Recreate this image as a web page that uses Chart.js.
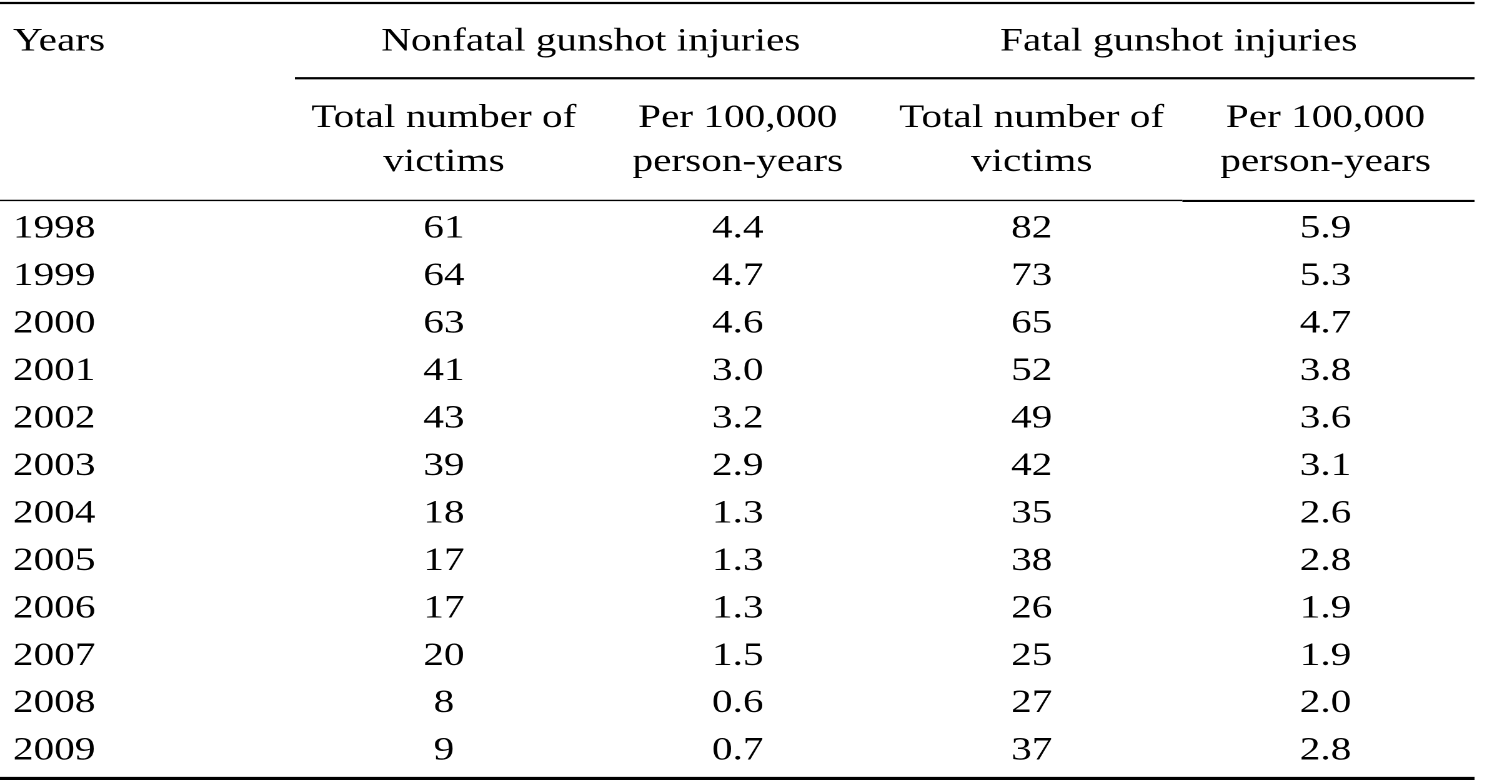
<!DOCTYPE html>
<html>
<head>
<meta charset="utf-8">
<title>Gunshot injuries 1998-2009</title>
<script src="https://cdn.jsdelivr.net/npm/chart.js@4.4.0/dist/chart.umd.min.js"></script>
<style>
  html, body { margin: 0; padding: 0; background: #fff; overflow: hidden; }
  /* the table in the source is printed wider than its font, so stretch it sideways */
  #wrap { width: 1190px; height: 782px; transform: scaleX(1.2496); transform-origin: 0 0; }
</style>
</head>
<body>
<div id="wrap"><canvas id="chart"></canvas></div>
<script>
// ---- data ----
const years = ['1998', '1999', '2000', '2001', '2002', '2003', '2004', '2005', '2006', '2007', '2008', '2009'];
const groupHeads = ['Nonfatal gunshot injuries', 'Fatal gunshot injuries'];
const columnHeads = [
  ['Total number of', 'victims'],
  ['Per 100,000', 'person-years'],
  ['Total number of', 'victims'],
  ['Per 100,000', 'person-years']
];
const nonfatalTotal = [61, 64, 63, 41, 43, 39, 18, 17, 17, 20, 8, 9];
const nonfatalRate  = [4.4, 4.7, 4.6, 3.0, 3.2, 2.9, 1.3, 1.3, 1.3, 1.5, 0.6, 0.7];
const fatalTotal    = [82, 73, 65, 52, 49, 42, 35, 38, 26, 25, 27, 37];
const fatalRate     = [5.9, 5.3, 4.7, 3.8, 3.6, 3.1, 2.6, 2.8, 1.9, 1.9, 2.0, 2.8];

const FONT = "'Liberation Serif', 'Times New Roman', serif";
const SIZE = 33;

Chart.defaults.font.family = FONT;
Chart.defaults.font.size = SIZE;
Chart.defaults.color = '#000';

// one dataset per column, one point per year (x = column, y = row)
const columns = [
  { values: nonfatalTotal, decimals: 0 },
  { values: nonfatalRate,  decimals: 1 },
  { values: fatalTotal,    decimals: 0 },
  { values: fatalRate,     decimals: 1 }
];

const datasets = columns.map((col, c) => ({
  label: columnHeads[c].join(' '),
  values: col.values,
  decimals: col.decimals,
  data: col.values.map((v, r) => ({ x: c, y: r })),
  pointRadius: 0,
  showLine: false
}));

// draws the cell texts at the points and the rules of the table
const tablePlugin = {
  id: 'tableText',
  afterDatasetsDraw(chart) {
    const ctx = chart.ctx;
    ctx.save();
    ctx.fillStyle = '#000';
    ctx.font = SIZE + 'px ' + FONT;
    ctx.textAlign = 'center';
    ctx.textBaseline = 'middle';
    chart.data.datasets.forEach((ds, i) => {
      chart.getDatasetMeta(i).data.forEach((pt, j) => {
        ctx.fillText(ds.values[j].toFixed(ds.decimals), pt.x, pt.y);
      });
    });
    // "Years" heading, level with the group headings
    const x2 = chart.scales.x2, y = chart.scales.y;
    ctx.textAlign = 'left';
    ctx.fillText('Years', y.left, x2.top + x2.height / 2);
    ctx.restore();
  },
  afterDraw(chart) {
    const ctx = chart.ctx;
    const area = chart.chartArea;
    const xs = chart.scales.x;
    const right = area.right + 1.6;
    const lastColLeft = xs.getPixelForValue(3) - (xs.getPixelForValue(1) - xs.getPixelForValue(0)) / 2 + 3;
    const rule = (x0, x1, yy, w) => {
      ctx.beginPath();
      ctx.lineWidth = w;
      ctx.strokeStyle = '#000';
      ctx.moveTo(x0, yy);
      ctx.lineTo(x1, yy);
      ctx.stroke();
    };
    ctx.save();
    rule(0, right, 3, 2.2);                           // top rule
    rule(area.left - 1.6, right, xs.top + 3, 2.2);    // under group headings
    rule(0, lastColLeft, area.top - 4.8, 1.3);        // under column headings
    rule(lastColLeft, right, area.top - 4.3, 2.2);
    rule(0, right, area.bottom + 3.7, 3.2);           // bottom rule
    ctx.restore();
  }
};

new Chart(document.getElementById('chart'), {
  type: 'scatter',
  data: { datasets },
  plugins: [tablePlugin],
  options: {
    responsive: true,
    maintainAspectRatio: false,
    devicePixelRatio: 2,
    animation: false,
    parsing: false,
    events: [],
    layout: { padding: { left: 10.4, right: 11.6, top: 8.75, bottom: 7.25 } },
    plugins: { legend: { display: false }, tooltip: { enabled: false } },
    scales: {
      x: {
        type: 'category',
        position: 'top',
        weight: 0,
        labels: columnHeads,
        offset: true,
        grid: { display: false, drawTicks: false },
        border: { display: false },
        ticks: { padding: 21, maxRotation: 0, autoSkip: false, font: { size: SIZE, lineHeight: 44 / SIZE } }
      },
      x2: {
        type: 'category',
        position: 'top',
        weight: 1,
        labels: groupHeads,
        offset: true,
        grid: { display: false, drawTicks: false },
        border: { display: false },
        ticks: { padding: 11.25, maxRotation: 0, autoSkip: false, font: { size: SIZE, lineHeight: 44 / SIZE } }
      },
      y: {
        type: 'category',
        position: 'left',
        labels: years,
        offset: true,
        grid: { display: false, drawTicks: false },
        border: { display: false },
        ticks: { crossAlign: 'far', padding: 0, autoSkip: false, font: { size: SIZE } },
        afterFit: (scale) => {
          scale.width = 227.2;
          // rows sit inside their bands, so no extra room is needed above or below
          scale.paddingTop = 0;
          scale.paddingBottom = 0;
        }
      }
    }
  }
});
</script>
</body>
</html>
